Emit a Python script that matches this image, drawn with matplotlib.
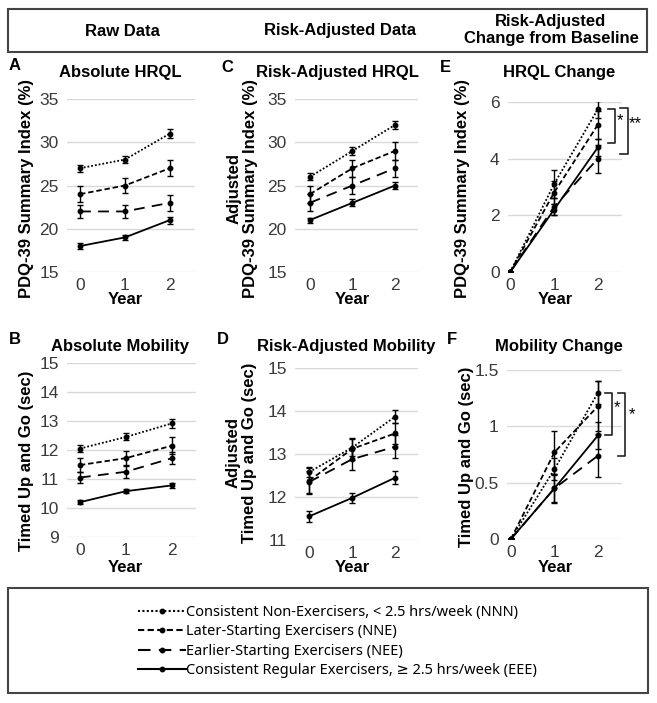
import matplotlib
matplotlib.use("Agg")
import matplotlib.pyplot as plt
from matplotlib.lines import Line2D
from matplotlib.patches import Rectangle
from matplotlib.font_manager import FontProperties

plt.rcParams['font.family'] = ['Liberation Sans', 'DejaVu Sans']

W, H = 657, 703

years = [0, 1, 2]
groups = ["NNN", "NNE", "NEE", "EEE"]
legend_labels = [
    "Consistent Non-Exercisers, < 2.5 hrs/week (NNN)",
    "Later-Starting Exercisers (NNE)",
    "Earlier-Starting Exercisers (NEE)",
    "Consistent Regular Exercisers, \u2265 2.5 hrs/week (EEE)",
]

# A: absolute HRQL (PDQ-39 %)
hrql_raw = {"NNN": [27.0, 28.0, 31.0], "NNE": [24.0, 25.0, 27.0],
            "NEE": [22.0, 22.0, 23.0], "EEE": [18.0, 19.0, 21.0]}
hrql_raw_err = {"NNN": [0.4, 0.4, 0.5], "NNE": [0.9, 0.9, 0.9],
                "NEE": [0.8, 0.8, 0.9], "EEE": [0.3, 0.3, 0.4]}
# C: risk-adjusted HRQL
hrql_adj = {"NNN": [26.0, 29.0, 32.0], "NNE": [24.0, 27.0, 29.0],
            "NEE": [23.0, 25.0, 27.0], "EEE": [21.0, 23.0, 25.0]}
hrql_adj_err = {"NNN": [0.4, 0.5, 0.5], "NNE": [1.0, 1.0, 1.0],
                "NEE": [1.0, 1.0, 1.0], "EEE": [0.3, 0.4, 0.4]}
# E: HRQL change
hrql_chg = {"NNN": [0.0, 3.1, 5.75], "NNE": [0.0, 2.8, 5.2],
            "NEE": [0.0, 2.3, 4.0], "EEE": [0.0, 2.2, 4.4]}
hrql_chg_err = {"NNN": [0.0, 0.5, 0.3], "NNE": [0.0, 0.4, 0.5],
                "NEE": [0.0, 0.3, 0.5], "EEE": [0.0, 0.2, 0.3]}
# B: absolute mobility (TUG sec)
tug_raw = {"NNN": [12.05, 12.45, 12.92], "NNE": [11.48, 11.72, 12.15],
           "NEE": [11.05, 11.25, 11.72], "EEE": [10.2, 10.58, 10.78]}
tug_raw_err = {"NNN": [0.12, 0.12, 0.15], "NNE": [0.25, 0.25, 0.3],
               "NEE": [0.2, 0.2, 0.2], "EEE": [0.07, 0.07, 0.08]}
# D: risk-adjusted mobility
tug_adj = {"NNN": [12.58, 13.15, 13.87], "NNE": [12.38, 13.12, 13.48],
           "NEE": [12.35, 12.88, 13.17], "EEE": [11.55, 11.98, 12.45]}
tug_adj_err = {"NNN": [0.12, 0.2, 0.15], "NNE": [0.3, 0.25, 0.25],
               "NEE": [0.25, 0.25, 0.27], "EEE": [0.12, 0.12, 0.15]}
# F: mobility change
tug_chg = {"NNN": [0.0, 0.62, 1.30], "NNE": [0.0, 0.77, 1.18],
           "NEE": [0.0, 0.45, 0.74], "EEE": [0.0, 0.45, 0.92]}
tug_chg_err = {"NNN": [0.0, 0.1, 0.1], "NNE": [0.0, 0.19, 0.22],
               "NEE": [0.0, 0.13, 0.19], "EEE": [0.0, 0.12, 0.12]}

styles = {"NNN": (0, (1, 1.1)), "NNE": (0, (3, 1.6)),
          "NEE": (0, (6, 4)), "EEE": "-"}

fig = plt.figure(figsize=(W / 100, H / 100), dpi=100)


def add_ax(l, r, t, b):
    return fig.add_axes([l / W, 1 - b / H, (r - l) / W, (b - t) / H])


def ftext(x, y, s, **kw):
    fig.text(x / W, 1 - y / H, s, **kw)


def panel(ax, data, err, xlim, ylim, yticks, yfmt=None):
    for g in groups:
        ax.errorbar(years, data[g], yerr=err[g], color='black', lw=1.3,
                    linestyle=styles[g], marker='o', ms=3.2, capsize=2.5,
                    elinewidth=1.0, capthick=1.0, zorder=3)
    ax.set_xlim(*xlim)
    ax.set_ylim(*ylim)
    ax.set_yticks(yticks)
    if yfmt:
        ax.set_yticklabels(yfmt)
    ax.set_xticks(years)
    for s in ax.spines.values():
        s.set_visible(False)
    ax.tick_params(length=0, labelsize=12.5, labelcolor='#3a3a3a', pad=6)
    ax.tick_params(axis='x', pad=4)
    ax.grid(axis='y', color='#d9d9d9', lw=1.0)
    ax.set_axisbelow(True)


def bracket(ax, x, y1, y2, arm, label, dx):
    ax.plot([x - arm, x, x, x - arm], [y1, y1, y2, y2], color='#222222',
            lw=1.2, clip_on=False)
    ax.text(x + dx, (y1 + y2) / 2 + (y1 - y2) * 0.15, label, fontsize=12,
            va='center', ha='left', clip_on=False)


# header box
fig.add_artist(Rectangle((8 / W, 1 - 52 / H), 639 / W, 43 / H,
                         transform=fig.transFigure, fill=False,
                         ec='#444444', lw=1.5))
ftext(122, 31, "Raw Data", fontsize=12, fontweight='bold', ha='center', va='center')
ftext(340, 31, "Risk-Adjusted Data", fontsize=12, fontweight='bold', ha='center', va='center')
ftext(551, 30, "Risk-Adjusted\nChange from Baseline", fontsize=12, fontweight='bold',
      ha='center', va='center', linespacing=1.2)

# panels
axA = add_ax(67, 195, 99, 272)
panel(axA, hrql_raw, hrql_raw_err, (-0.29, 2.56), (15, 35), [15, 20, 25, 30, 35])
axC = add_ax(295, 418, 99, 272)
panel(axC, hrql_adj, hrql_adj_err, (-0.35, 2.54), (15, 35), [15, 20, 25, 30, 35])
axE = add_ax(508, 622, 102, 272)
panel(axE, hrql_chg, hrql_chg_err, (-0.05, 2.55), (0, 6), [0, 2, 4, 6])
axB = add_ax(67, 196, 363, 537)
panel(axB, tug_raw, tug_raw_err, (-0.28, 2.52), (9, 15), list(range(9, 16)))
axD = add_ax(295, 418, 368, 540)
panel(axD, tug_adj, tug_adj_err, (-0.33, 2.53), (11, 15), [11, 12, 13, 14, 15])
axF = add_ax(507, 622, 370, 539)
panel(axF, tug_chg, tug_chg_err, (-0.09, 2.55), (0, 1.5), [0, 0.5, 1, 1.5],
      ["0", "0.5", "1", "1.5"])

# significance brackets
bracket(axE, 2.39, hrql_chg["NNN"][2], hrql_chg["EEE"][2] + 0.15, 0.17, "*", 0.03)
bracket(axE, 2.68, hrql_chg["NNN"][2] + 0.05, hrql_chg["NEE"][2] + 0.15, 0.18, "**", 0.03)
bracket(axF, 2.32, tug_chg["NNN"][2], tug_chg["EEE"][2], 0.17, "*", 0.05)
bracket(axF, 2.62, tug_chg["NNN"][2], tug_chg["NEE"][2], 0.17, "*", 0.08)

# titles, letters, axis labels
bold = dict(fontsize=12, fontweight='bold', ha='center', va='center')
ftext(120, 72, "Absolute HRQL", **bold)
ftext(338, 72, "Risk-Adjusted HRQL", **bold)
ftext(559, 72, "HRQL Change", **bold)
ftext(120, 347, "Absolute Mobility", **bold)
ftext(346, 347, "Risk-Adjusted Mobility", **bold)
ftext(559, 347, "Mobility Change", **bold)

for x, y, s in [(15, 66, "A"), (227, 67, "C"), (445, 67, "E"),
                (15, 339, "B"), (223, 339, "D"), (452, 340, "F")]:
    ftext(x, y, s, **bold)

for x in (125, 352, 555):
    ftext(x, 299, "Year", **bold)
    ftext(x, 568, "Year", **bold)

ylab = dict(bold, rotation=90, linespacing=1.1)
ftext(27, 188, "PDQ-39 Summary Index (%)", **ylab)
ftext(242, 188, "Adjusted\nPDQ-39 Summary Index (%)", **ylab)
ftext(463, 188, "PDQ-39 Summary Index (%)", **ylab)
ftext(27, 461, "Timed Up and Go (sec)", **ylab)
ftext(241, 453, "Adjusted\nTimed Up and Go (sec)", **ylab)
ftext(467, 457, "Timed Up and Go (sec)", **ylab)

# legend box
fig.add_artist(Rectangle((8 / W, 1 - 693 / H), 640 / W, 105 / H,
                         transform=fig.transFigure, fill=False,
                         ec='#444444', lw=1.5))
handles = [Line2D([], [], color='black', lw=1.5, linestyle=styles[g],
                  marker='o', ms=3.2) for g in groups]
fig.legend(handles, legend_labels, loc='upper left',
           bbox_to_anchor=(138 / W, 1 - 605 / H), frameon=False,
           prop=FontProperties(family=['Noto Sans', 'DejaVu Sans'], size=10.5),
           handlelength=3.3, handletextpad=0.0, labelspacing=0.3,
           borderaxespad=0, borderpad=0)

fig.savefig("out.png", dpi=100)
